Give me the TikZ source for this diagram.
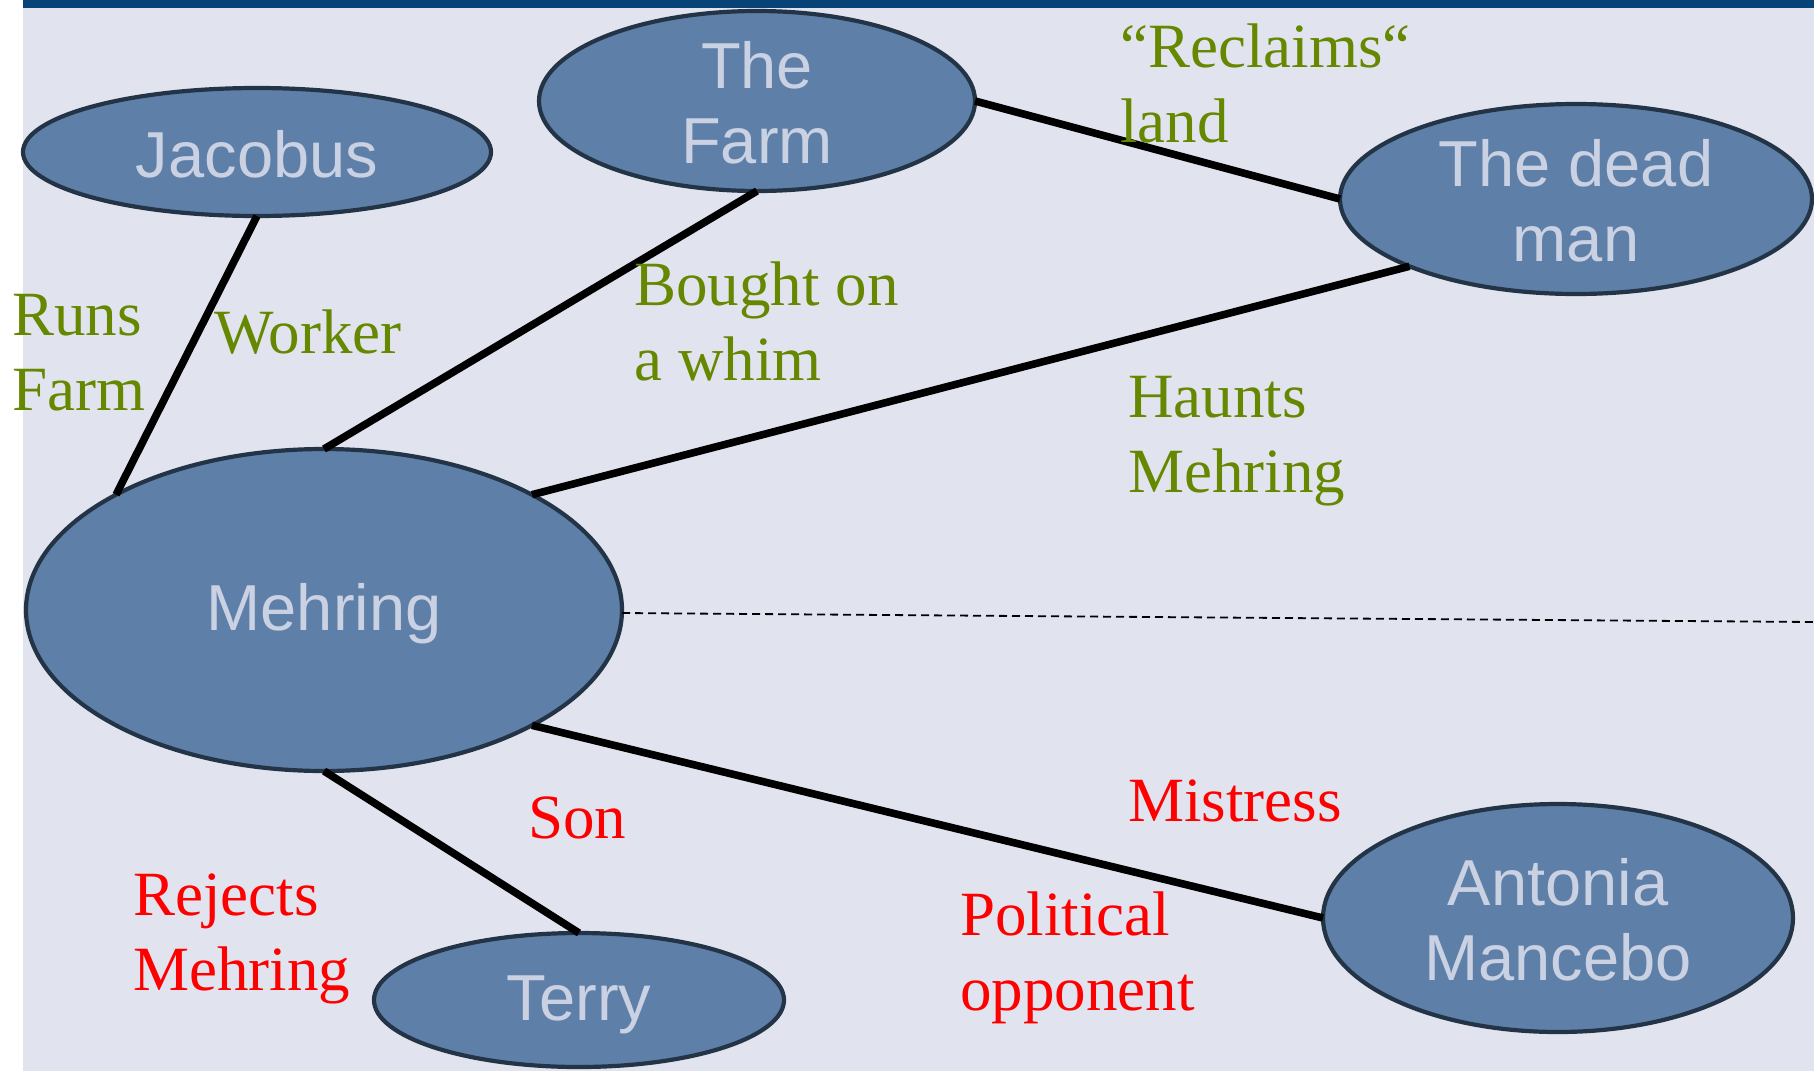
\documentclass[tikz,border=0pt]{standalone}
\usepackage{fontspec}
\usetikzlibrary{shapes.geometric}
\setmainfont{Liberation Serif}
\newfontfamily\nodefont{Liberation Sans}
\definecolor{bgc}{RGB}{225,228,239}
\definecolor{barc}{RGB}{8,67,120}
\definecolor{fillc}{RGB}{94,127,168}
\definecolor{edgec}{RGB}{36,52,71}
\definecolor{ntext}{RGB}{201,209,227}
\definecolor{greenc}{RGB}{102,136,0}
\definecolor{redc}{RGB}{255,0,0}
\begin{document}
\begin{tikzpicture}[x=0.5pt,y=-0.5pt,
  ent/.style={ellipse,draw=edgec,line width=2.1pt,fill=fillc,inner sep=0pt,outer sep=0pt},
  enttext/.style={text=ntext,font=\nodefont\fontsize{32.5}{37.5}\selectfont,align=center,inner sep=0pt,yshift=-1pt},
  lab/.style={anchor=base west,inner sep=0pt,align=left,font=\fontsize{31.5}{37.5}\selectfont},
  glab/.style={lab,text=greenc},
  rlab/.style={lab,text=redc},
  link/.style={line width=3.8pt,black},
  dashlink/.style={line width=0.9pt,black,dash pattern=on 4pt off 2.5pt}]
\useasboundingbox (0,0) rectangle (1814,1071);
\fill[white] (0,0) rectangle (1814,1071);
\fill[bgc] (23,0) rectangle (1814,1071);
\fill[barc] (23,0) rectangle (1814,8);
% entities
\node[ent,minimum width=234pt,minimum height=64pt] (jacobus) at (257,152) {};
\node[enttext] (jacobust) at (jacobus.center) {Jacobus};
\node[ent,minimum width=218pt,minimum height=90pt] (farm) at (757,101) {};
\node[enttext] (farmt) at (farm.center) {The\\Farm};
\node[ent,minimum width=236pt,minimum height=95pt] (dead) at (1576,199) {};
\node[enttext] (deadt) at (dead.center) {The dead\\man};
\node[ent,minimum width=298pt,minimum height=161pt] (mehring) at (324,610) {};
\node[enttext] (mehringt) at ([yshift=-1pt]mehring.center) {Mehring};
\node[ent,minimum width=205pt,minimum height=67pt] (terry) at (579,1000) {};
\node[enttext] (terryt) at ([yshift=-1.5pt]terry.center) {Terry};
\node[ent,minimum width=235pt,minimum height=114pt] (antonia) at (1558,918) {};
\node[enttext] (antoniat) at (antonia.center) {Antonia\\Mancebo};
% connectors
\draw[link] (jacobus.south) -- (mehring.151);
\draw[link] (farm.south) -- (mehring.north);
\draw[link] (dead.202) -- (mehring.29);
\draw[link] (farm.east) -- (dead.west);
\draw[link] (mehring.-29) -- (antonia.west);
\draw[link] (mehring.south) -- (terry.north);
\coordinate (dashend) at (1814,622);
\draw[dashlink] ([yshift=-1.5pt]mehring.east) -- (dashend);
% labels (base = baseline of last line)
\node[glab] (runs) at (12,410) {Runs\\Farm};
\node[glab] (worker) at (214,353) {Worker};
\node[glab] (bought) at (634,380) {Bought on\\a whim};
\node[glab] (reclaims) at (1120,142) {“Reclaims“\\land};
\node[glab] (haunts) at (1128,492) {Haunts\\Mehring};
\node[rlab] (mistress) at (1128,821) {Mistress};
\node[rlab] (son) at (528,838) {Son};
\node[rlab] (rejects) at (133,990) {Rejects\\Mehring};
\node[rlab] (political) at (960,1010) {Political\\opponent};
\end{tikzpicture}
\end{document}
